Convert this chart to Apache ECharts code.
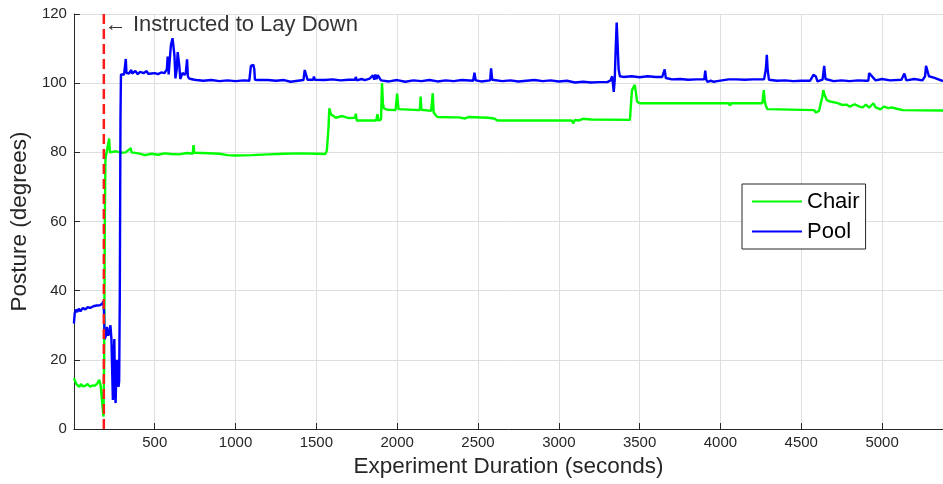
<!DOCTYPE html>
<html>
<head>
<meta charset="utf-8">
<script src="https://cdn.jsdelivr.net/npm/echarts@6/dist/echarts.min.js"></script>
<style>html,body{margin:0;padding:0;background:#fff}#c{width:943px;height:484px}</style>
</head>
<body>
<div id="c"></div>
<script>
const xTicks = [500, 1000, 1500, 2000, 2500, 3000, 3500, 4000, 4500, 5000];
const yTicks = [0, 20, 40, 60, 80, 100, 120];
const cueTime = 185;
const cueLabel = '\u2190 Instructed to Lay Down';
const cueLabelY = 116.8;

const poolTime = [0,5,12,20,30,40,55,70,85,100,120,140,160,175,182,186,190,198,205,212,220,226,232,238,241,246,250,254,258,262,266,270,276,280,284,288,291,300,310,318,321,325,340,355,360,380,395,410,430,450,460,480,500,520,540,560,575,580,586,595,600,610,616,622,628,636,642,647,652,658,665,672,678,685,692,700,705,712,725,745,760,800,850,900,950,1000,1050,1085,1090,1095,1110,1116,1120,1140,1200,1250,1300,1340,1345,1420,1428,1436,1445,1480,1485,1490,1550,1600,1650,1700,1740,1744,1750,1780,1800,1830,1850,1858,1865,1872,1880,1900,1950,2000,2050,2100,2150,2200,2250,2300,2350,2400,2470,2478,2486,2520,2575,2581,2588,2600,2650,2700,2750,2800,2850,2900,2950,3000,3050,3100,3150,3200,3250,3300,3320,3330,3340,3346,3352,3358,3364,3370,3378,3400,3450,3500,3550,3600,3640,3655,3662,3700,3750,3800,3850,3900,3906,3912,3920,3940,3960,3980,4050,4100,4150,4200,4270,4276,4281,4287,4292,4300,4350,4400,4450,4500,4540,4555,4565,4575,4590,4600,4632,4637,4642,4650,4700,4750,4800,4850,4900,4915,4920,4960,5000,5050,5120,5132,5138,5150,5200,5250,5260,5266,5272,5290,5320,5377];
const poolValue = [30.5,33.5,34.5,33.8,34.8,34.0,35.0,34.6,35.2,35.0,35.5,35.7,35.8,36.2,36.9,34,26,27,29.5,27,28,30,26,14,8.4,22,26,11,7.5,16,20,15,12.2,14,40,90,102.5,102.8,102.5,103,107,103,102.8,103.8,102.8,103.5,102.6,103.3,102.9,103.5,102.7,102.8,102.9,102.6,103.1,102.9,104,107.7,102.5,108,111,113,112.8,108,101.4,104,109,109.1,105,101.2,101.5,103,102.9,102.4,103,106.9,102,101.4,101.2,101,100.9,100.7,100.9,100.6,100.8,100.6,100.8,100.7,101,105,105.3,104,101,100.9,100.9,100.7,100.9,100.4,100.9,100.9,103.8,102.5,101,101,101.9,101,100.9,101.1,100.8,101,101,101.8,100.8,101.2,100.9,101.3,102.3,101,102.5,101.2,102.3,100.8,100.5,100.9,100.4,100.8,100.6,100.9,100.5,100.8,100.6,100.9,100.7,103,100.8,100.5,100.8,104.3,101,100.9,100.6,100.8,100.5,100.7,100.9,100.6,100.8,100.5,100.7,100.2,100.4,100.2,100.3,100.3,100.8,102,97.5,101,110,117.5,111,104,102,101.8,102,101.7,102,101.8,101.8,104,101.5,101.1,101.2,101.0,101.1,101.1,103.6,101,100.4,100.7,100.4,100.6,101.1,101.1,101.0,101.1,101.1,101.1,104,108.2,104,101,100.7,100.8,100.6,100.7,100.7,100.7,101.5,102.4,102,100.5,101,101,105,101.2,100.6,100.8,100.6,100.8,100.7,100.7,102.9,100.8,101.2,100.8,101,101,102.8,100.8,101.2,100.8,101,102,105,102,101.6,100.6,100.6];

const chairTime = [0,8,15,25,33,45,55,70,85,100,115,130,145,157,165,172,178,183,187,191,195,200,210,218,222,230,260,290,320,352,356,400,440,480,520,560,600,650,700,735,740,745,800,900,950,1000,1100,1200,1300,1400,1500,1555,1565,1572,1576,1580,1590,1620,1660,1700,1740,1744,1750,1870,1878,1884,1900,1906,1912,1918,1940,1990,2000,2008,2140,2145,2150,2210,2220,2226,2237,2250,2350,2360,2380,2420,2440,2560,2600,2620,3080,3090,3100,3120,3150,3200,3440,3448,3453,3470,3478,3484,3500,4050,4060,4066,4260,4268,4274,4280,4290,4300,4580,4590,4600,4610,4630,4637,4645,4660,4679,4720,4754,4780,4800,4830,4860,4880,4900,4920,4946,4960,4990,5010,5040,5060,5090,5130,5377];
const chairValue = [14.7,15,13,12.5,12.2,13,12.3,12.5,13,12.2,12.6,12.5,13.2,14.2,12.6,13,6,3.6,20,60,78,79.5,79.8,84,80,79.8,80.3,79.9,80,81.2,80,79.7,79.2,79.6,79.3,79.7,79.5,79.4,79.8,79.6,82.1,79.9,79.8,79.6,79.2,79.1,79.2,79.4,79.6,79.7,79.6,79.5,80.5,81,88,92.7,91,90,90.5,89.9,90,91.2,89.2,89.2,91,89.2,89.5,100,94,92.7,92.3,92.2,97,92.5,92.2,96.1,92.3,92,97.1,91.5,90.8,90.2,90.1,89.6,90.1,89.8,90.2,90,89.8,89.2,89.2,88.4,89.4,89.2,89.7,89.5,89.4,95,98,99.5,97,94.7,94.2,94.2,93.5,94.2,94.2,98,95,93.6,92.5,92.2,92.2,91.5,91.6,92,96,98,96.5,95,94.7,94.3,93.7,93.8,93.2,93.9,93.2,93.0,93.8,92.9,94.2,93.0,92.4,93.2,92.8,93.0,92.6,92.2,92.1];

const chart = echarts.init(document.getElementById('c'), null, {renderer: 'canvas'});
const FONT = 'Liberation Sans, Arial, sans-serif';
const axisColor = '#262626';
const gridColor = '#dedede';

chart.setOption({
  animation: false,
  backgroundColor: '#ffffff',
  grid: {left: 73, right: 0, top: 14, bottom: 55, containLabel: false},
  legend: {
    data: [{name: 'Chair', icon: 'rect'}, {name: 'Pool', icon: 'rect'}],
    orient: 'vertical',
    left: 742, top: 184,
    padding: [6.5, 6, 6.5, 10],
    itemWidth: 50, itemHeight: 2, itemGap: 8,
    backgroundColor: '#ffffff',
    borderColor: axisColor, borderWidth: 1,
    textStyle: {fontFamily: FONT, fontSize: 22, color: '#000'}
  },
  xAxis: {
    type: 'value', min: 0, max: 5377, interval: 500,
    name: 'Experiment Duration (seconds)', nameLocation: 'middle', nameGap: 26,
    nameTextStyle: {fontFamily: FONT, fontSize: 22.5, color: axisColor},
    axisLine: {show: true, onZero: false, lineStyle: {color: axisColor, width: 1}},
    axisTick: {show: true, inside: true, length: 6, lineStyle: {color: axisColor}},
    axisLabel: {show: true, showMinLabel: false, showMaxLabel: false, margin: 6,
      fontFamily: FONT, fontSize: 15, color: axisColor,
      formatter: v => xTicks.indexOf(v) >= 0 ? String(v) : ''},
    splitLine: {show: true, lineStyle: {color: gridColor, width: 1}}
  },
  yAxis: {
    type: 'value', min: 0, max: 120, interval: 20,
    name: 'Posture (degrees)', nameLocation: 'middle', nameGap: 37,
    nameTextStyle: {fontFamily: FONT, fontSize: 22.5, color: axisColor},
    axisLine: {show: true, lineStyle: {color: axisColor, width: 1}},
    axisTick: {show: true, inside: true, length: 6, lineStyle: {color: axisColor}},
    axisLabel: {margin: 7, fontFamily: FONT, fontSize: 15, color: axisColor,
      formatter: v => yTicks.indexOf(v) >= 0 ? String(v) : ''},
    splitLine: {show: true, lineStyle: {color: gridColor, width: 1}}
  },
  series: [
    {
      name: 'Chair', type: 'line', symbol: 'none', z: 3,
      lineStyle: {color: '#00ff00', width: 2.4},
      itemStyle: {color: '#00ff00'},
      data: chairTime.map((t, i) => [t, chairValue[i]])
    },
    {
      name: 'Pool', type: 'line', symbol: 'none', z: 4,
      lineStyle: {color: '#0000ff', width: 2.4},
      itemStyle: {color: '#0000ff'},
      data: poolTime.map((t, i) => [t, poolValue[i]])
    },
    {
      name: 'cue', type: 'line', symbol: 'none', z: 5,
      lineStyle: {color: '#ff1a1a', width: 2.5, type: [10, 5]},
      data: [[cueTime, yTicks[0]], [cueTime, yTicks[yTicks.length - 1]]]
    },
    {
      name: 'cueText', type: 'scatter', symbolSize: 0, z: 6,
      data: [[cueTime, cueLabelY]],
      label: {show: true, position: 'right', distance: 1, formatter: cueLabel,
        fontFamily: FONT, fontSize: 22, color: '#000'}
    }
  ]
});
</script>
</body>
</html>
